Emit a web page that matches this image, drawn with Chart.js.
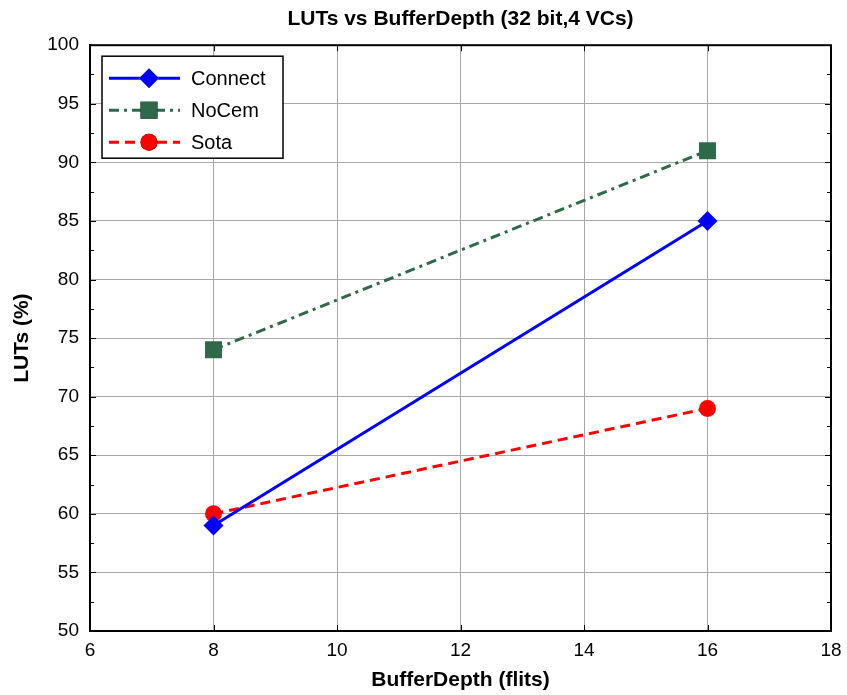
<!DOCTYPE html>
<html>
<head>
<meta charset="utf-8">
<title>LUTs vs BufferDepth</title>
<script src="https://cdn.jsdelivr.net/npm/chart.js@4.4.1/dist/chart.umd.min.js"></script>
<style>
    html, body { margin: 0; padding: 0; background: #fff; }
    #wrap { width: 847px; height: 695px; }
</style>
</head>
<body>
<div id="wrap"><canvas id="chart" width="847" height="695"></canvas></div>
<script>
const bufferDepth = [8, 16]
const connectLuts = [59, 85]
const nocemLuts = [74, 91]
const sotaLuts = [60, 69]

const xTicks = [6, 8, 10, 12, 14, 16, 18]
const yTicks = [50, 55, 60, 65, 70, 75, 80, 85, 90, 95, 100]

const toPoints = (ys) => bufferDepth.map((x, i) => ({ x: x, y: ys[i] }))

const FONT = 'Arial, "Liberation Sans", Helvetica, sans-serif'

// frame + inward tick marks like a matlab axes box
const boxPlugin = {
    id: 'box',
    afterDraw: (chart) => {
        const { ctx, chartArea: a, scales } = chart
        ctx.save()
        ctx.strokeStyle = '#000'
        ctx.lineWidth = 1
        ctx.beginPath()
        xTicks.forEach(v => {
            const px = Math.round(scales.x.getPixelForValue(v)) + 0.5
            ctx.moveTo(px, a.bottom); ctx.lineTo(px, a.bottom - 6)
            ctx.moveTo(px, a.top); ctx.lineTo(px, a.top + 6)
        })
        for (let v = 50; v <= 100; v += 2.5) {
            const py = Math.round(scales.y.getPixelForValue(v)) + 0.5
            const len = v % 5 === 0 ? 6 : 4
            ctx.moveTo(a.left, py); ctx.lineTo(a.left + len, py)
            ctx.moveTo(a.right, py); ctx.lineTo(a.right - len, py)
        }
        ctx.stroke()
        ctx.lineWidth = 2
        ctx.strokeRect(a.left, a.top, a.right - a.left, a.bottom - a.top)
        ctx.restore()
    }
}

// legend box inside the plot, top left
const legendPlugin = {
    id: 'insideLegend',
    afterDraw: (chart) => {
        const { ctx, chartArea: a } = chart
        const x0 = a.left + 12
        const y0 = a.top + 11
        ctx.save()
        ctx.fillStyle = '#fff'
        ctx.fillRect(x0, y0, 181, 102)
        ctx.strokeStyle = '#000'
        ctx.lineWidth = 1.5
        ctx.strokeRect(x0, y0, 181, 102)

        chart.data.datasets.forEach((ds, i) => {
            const y = y0 + 22 + i * 32
            ctx.strokeStyle = ds.borderColor
            ctx.lineWidth = ds.borderWidth
            ctx.setLineDash(ds.borderDash || [])
            ctx.beginPath()
            ctx.moveTo(x0 + 7, y)
            ctx.lineTo(x0 + 78, y)
            ctx.stroke()
            ctx.setLineDash([])
            Chart.helpers.drawPoint(ctx, {
                pointStyle: ds.pointStyle,
                radius: ds.pointRadius,
                borderWidth: 0
            }, x0 + 47, y)
            ctx.fillStyle = ds.pointBackgroundColor
            ctx.fill()
            ctx.fillStyle = '#000'
            ctx.font = '20px ' + FONT
            ctx.textBaseline = 'middle'
            ctx.fillText(ds.label, x0 + 89, y + 1)
        })
        ctx.restore()
    }
}

const makeSet = (label, data, color, style, radius, dash) => ({
    label: label,
    data: toPoints(data),
    borderColor: color,
    backgroundColor: color,
    pointBackgroundColor: color,
    pointBorderColor: color,
    pointBorderWidth: 0,
    borderWidth: 3,
    borderDash: dash,
    pointStyle: style,
    pointRadius: radius,
    pointHoverRadius: radius,
    showLine: true,
    tension: 0
})

new Chart(document.getElementById('chart'), {
    type: 'scatter',
    data: {
        datasets: [
            makeSet('Connect', connectLuts, '#0000ff', 'rectRot', 10, []),
            makeSet('NoCem', nocemLuts, '#2e6a4a', 'rect', 12, [10, 5, 3, 5]),
            makeSet('Sota', sotaLuts, '#ff0000', 'circle', 8.5, [10, 6])
        ]
    },
    options: {
        responsive: false,
        animation: false,
        layout: { padding: { left: 0, right: 16, top: 0, bottom: 0 } },
        plugins: {
            legend: { display: false },
            tooltip: { enabled: false },
            title: {
                display: true,
                fullSize: false,
                text: 'LUTs vs BufferDepth (32 bit,4 VCs)',
                color: '#000',
                font: { family: FONT, size: 21, weight: 'bold' },
                padding: { top: 7, bottom: 13 }
            }
        },
        scales: {
            x: {
                type: 'linear',
                min: 6,
                max: 18,
                afterBuildTicks: (s) => { s.ticks = xTicks.map(v => ({ value: v })) },
                afterFit: (s) => {
                    s.height = 64
                    s.paddingLeft = 0
                    s.paddingRight = 0
                },
                ticks: { color: '#000', padding: 8, font: { family: FONT, size: 19 } },
                grid: { color: '#a8a8a8', lineWidth: 1, drawTicks: false },
                border: { display: true, color: '#000', width: 2 },
                title: {
                    display: true,
                    text: 'BufferDepth (flits)',
                    color: '#000',
                    font: { family: FONT, size: 21, weight: 'bold' },
                    padding: { top: 0, bottom: 2 }
                }
            },
            y: {
                type: 'linear',
                min: 50,
                max: 100,
                afterBuildTicks: (s) => { s.ticks = yTicks.map(v => ({ value: v })) },
                afterFit: (s) => {
                    s.width = 90
                    s.paddingTop = 0
                    s.paddingBottom = 0
                },
                ticks: { color: '#000', padding: 11, font: { family: FONT, size: 19 } },
                grid: { color: '#a8a8a8', lineWidth: 1, drawTicks: false },
                border: { display: true, color: '#000', width: 2 },
                title: {
                    display: true,
                    text: 'LUTs (%)',
                    color: '#000',
                    font: { family: FONT, size: 21, weight: 'bold' },
                    padding: { top: 10, bottom: 0 }
                }
            }
        }
    },
    plugins: [boxPlugin, legendPlugin]
})
</script>
</body>
</html>
